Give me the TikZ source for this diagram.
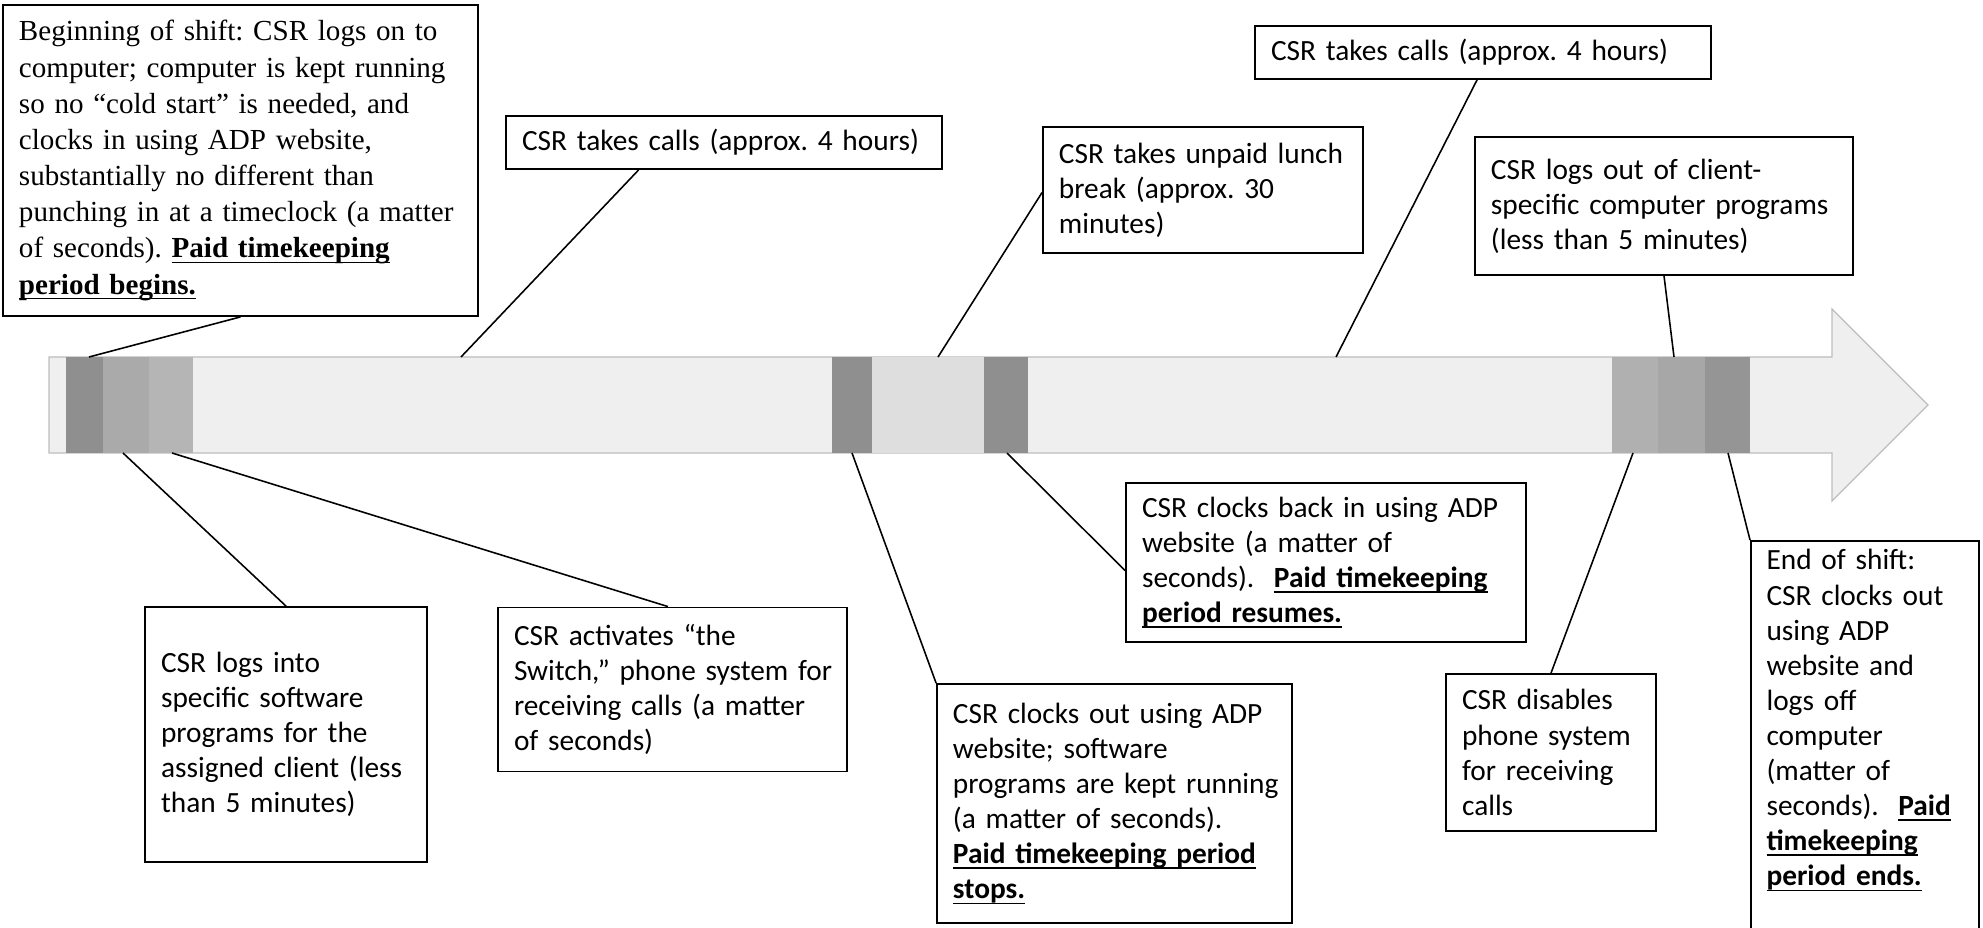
\documentclass[tikz,border=0pt]{standalone}
\usepackage{fontspec}
\setmainfont{Liberation Serif}
\newfontfamily\calfont{Carlito}
\usetikzlibrary{calc}
\frenchspacing
\newcommand{\pbu}[1]{\leavevmode\setbox0\hbox{\textbf{#1}}\rlap{\rule[-2.0pt]{\wd0}{0.6pt}}\box0}
\newcommand{\tln}[1]{\mbox{#1}}
\definecolor{barlight}{HTML}{EFEFEF}
\definecolor{barline}{HTML}{BDBDBD}
\definecolor{dk}{HTML}{8F8F8F}
\definecolor{mdone}{HTML}{AAAAAA}
\definecolor{mdtwo}{HTML}{B5B5B5}
\definecolor{lunch}{HTML}{DEDEDE}
\definecolor{rmone}{HTML}{B0B0B0}
\definecolor{rmtwo}{HTML}{A7A7A7}
\definecolor{rdk}{HTML}{959595}
\begin{document}
\begin{tikzpicture}[x=0.3817pt,y=-0.3817pt,
  box/.style={draw, line width=0.7pt, inner xsep=6.1pt, inner ysep=0pt, align=left,
    font=\calfont\fontsize{11.2pt}{13.4pt}\selectfont\frenchspacing},
  serifbox/.style={box, font=\fontsize{11.1pt}{13.8pt}\selectfont\frenchspacing},
  conn/.style={line width=0.6pt}]
\useasboundingbox (0,0) rectangle (1983,928);
\fill[white] (0,0) rectangle (1983,928);

% timeline arrow
\filldraw[fill=barlight, draw=barline, line width=0.5pt]
  (49,357) -- (1832,357) -- (1832,309) -- (1928,405) -- (1832,501) -- (1832,453) -- (49,453) -- cycle;
\fill[dk] (66,357) rectangle (103,453);
\fill[mdone] (103,357) rectangle (149,453);
\fill[mdtwo] (149,357) rectangle (193,453);
\fill[dk] (832,357) rectangle (872,453);
\fill[lunch] (872,357) rectangle (984,453);
\fill[dk] (984,357) rectangle (1028,453);
\fill[rmone] (1612,357) rectangle (1658,453);
\fill[rmtwo] (1658,357) rectangle (1705,453);
\fill[rdk] (1705,357) rectangle (1750,453);

% points on the bar
\coordinate (a1) at (89,357);
\coordinate (a2) at (461,357);
\coordinate (a3) at (938,357);
\coordinate (a4) at (1336,357);
\coordinate (a5) at (1674,357);
\coordinate (b1) at (123,453);
\coordinate (b2) at (172,453);
\coordinate (b3) at (852,453);
\coordinate (b4) at (1007,453);
\coordinate (b5) at (1633,453);
\coordinate (b6) at (1728,453);

% boxes
\node[serifbox, minimum width=181.31pt, minimum height=118.71pt, text width=169.1pt] (tl) at (240.5,160.5)
{\tln{Beginning of shift: CSR logs on to}\\
\tln{computer; computer is kept running}\\
\tln{so no “cold start” is needed, and}\\
\tln{clocks in using ADP website,}\\
\tln{substantially no different than}\\
\tln{punching in at a timeclock (a matter}\\
\tln{of seconds). \pbu{Paid timekeeping}}\\
\tln{\pbu{period begins.}}};

\node[box, minimum width=166.42pt, minimum height=20.23pt, text width=154.2pt] (tc1) at (724,142.5)
{\tln{CSR takes calls (approx. 4 hours)}};

\node[box, minimum width=122.14pt, minimum height=48.09pt, text width=110pt] (lb) at (1203,190)
{\tln{CSR takes unpaid lunch}\\ \tln{break (approx. 30}\\ \tln{minutes)}};

\node[box, minimum width=174.06pt, minimum height=20.23pt, text width=161.8pt] (tc2) at (1483,52.5)
{\tln{CSR takes calls (approx. 4 hours)}};

\node[box, minimum width=144.28pt, minimum height=52.67pt, text width=132.1pt] (lo) at (1664,206)
{\tln{CSR logs out of client-}\\ \tln{specific computer programs}\\ \tln{(less than 5 minutes)}};

\node[box, minimum width=107.64pt, minimum height=97.33pt, text width=95.4pt] (li) at (286,734.5)
{\tln{CSR logs into}\\ \tln{specific software}\\ \tln{programs for the}\\ \tln{assigned client (less}\\ \tln{than 5 minutes)}};

\node[box, minimum width=133.21pt, minimum height=62.6pt, text width=121pt] (ac) at (672.5,689.5)
{\tln{CSR activates “the}\\ \tln{Switch,” phone system for}\\ \tln{receiving calls (a matter}\\ \tln{of seconds)}};

\node[box, minimum width=135.5pt, minimum height=91.23pt, text width=123.3pt] (co) at (1114.5,803.5)
{\tln{CSR clocks out using ADP}\\ \tln{website; software}\\ \tln{programs are kept running}\\ \tln{(a matter of seconds).}\\ \tln{\pbu{Paid timekeeping period}}\\ \tln{\pbu{stops.}}};

\node[box, minimum width=152.68pt, minimum height=60.69pt, text width=140.4pt] (cb) at (1326,562.5)
{\tln{CSR clocks back in using ADP}\\ \tln{website (a matter of}\\ \tln{seconds).\ \ \pbu{Paid timekeeping}}\\ \tln{\pbu{period resumes.}}};

\node[box, minimum width=80.16pt, minimum height=59.93pt, text width=67.9pt] (di) at (1551,752.5)
{\tln{CSR disables}\\ \tln{phone system}\\ \tln{for receiving}\\ \tln{calls}};

\node[draw, line width=0.7pt, minimum width=87.03pt, minimum height=152.7pt, anchor=north west, inner sep=0pt] (endbox) at (1750,540) {};
\node[anchor=north west, inner sep=0pt, align=left, text width=75pt,
  font=\calfont\fontsize{11.2pt}{13.4pt}\selectfont\frenchspacing] (endtxt) at (1766,549)
{\tln{End of shift:}\\ \tln{CSR clocks out}\\ \tln{using ADP}\\ \tln{website and}\\ \tln{logs off}\\ \tln{computer}\\ \tln{(matter of}\\ \tln{seconds).\ \ \pbu{Paid}}\\ \tln{\pbu{timekeeping}}\\ \tln{\pbu{period ends.}}};

% connectors
\draw[conn] (tl.south) -- (a1);
\draw[conn] ($(tc1.south west)!0.305!(tc1.south east)$) -- (a2);
\draw[conn] ($(lb.north west)!0.52!(lb.south west)$) -- (a3);
\draw[conn] ($(tc2.south west)!0.487!(tc2.south east)$) -- (a4);
\draw[conn] (lo.south) -- (a5);
\draw[conn] (b1) -- (li.north);
\draw[conn] (b2) -- ($(ac.north west)!0.487!(ac.north east)$);
\draw[conn] (b3) -- (co.north west);
\draw[conn] (b4) -- ($(cb.north west)!0.55!(cb.south west)$);
\draw[conn] (b5) -- (di.north);
\draw[conn] (b6) -- (endbox.north west);
\end{tikzpicture}
\end{document}
